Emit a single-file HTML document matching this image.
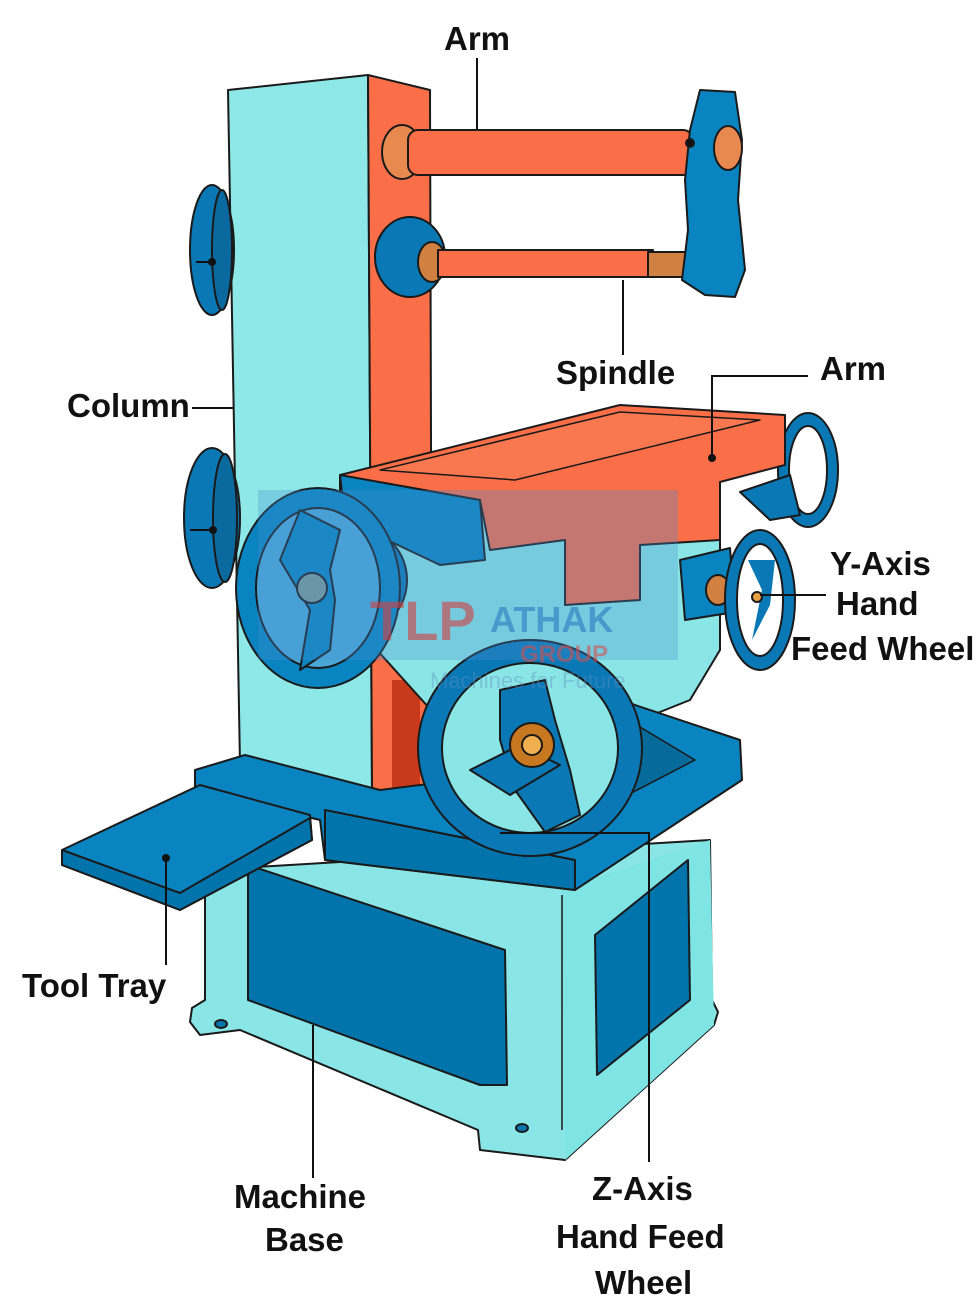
<!DOCTYPE html>
<html><head><meta charset="utf-8"><style>
html,body{margin:0;padding:0;background:#fff}
svg{display:block}
text{font-family:"Liberation Sans",sans-serif;font-weight:bold;font-size:33px;fill:#111}
</style></head><body>
<svg width="980" height="1315" viewBox="0 0 980 1315" xmlns="http://www.w3.org/2000/svg">
<g stroke="#1a1a1a" stroke-width="2" stroke-linejoin="round">
<!-- base body -->
<path d="M205 870 L710 840 L712 1000 L718 1012 L714 1025 L565 1160 L480 1150 L478 1130 L240 1030 L200 1035 L190 1022 L192 1008 L205 1000 Z" fill="#8ae6e6"/>
<path d="M562 890 L710 840 L714 1025 L565 1160 Z" fill="#7ee4e4" stroke="none"/>
<line x1="562" y1="895" x2="562" y2="1130" stroke-width="1.5"/>
<path d="M248 865 L505 950 L507 1085 L480 1085 L248 1000 Z" fill="#0274ac"/>
<path d="M595 935 L688 860 L690 1000 L597 1075 Z" fill="#0274ac"/>
<ellipse cx="221" cy="1024" rx="6" ry="4" fill="#0274ac"/>
<ellipse cx="522" cy="1128" rx="6" ry="4" fill="#0274ac"/>
<!-- column -->
<path d="M228 90 L368 75 L372 790 L240 765 Z" fill="#8ee8e8"/>
<path d="M368 75 L430 90 L432 790 L372 790 Z" fill="#fa6e48"/>
<path d="M392 680 L420 680 L420 790 L392 790 Z" fill="#c83a1c" stroke="none"/>
<!-- pulleys -->
<ellipse cx="212" cy="250" rx="22" ry="65" fill="#0a78b5"/>
<ellipse cx="222" cy="250" rx="10" ry="60" fill="#0a6aa0"/>
<ellipse cx="212" cy="518" rx="28" ry="70" fill="#0a78b5"/>
<ellipse cx="225" cy="518" rx="12" ry="64" fill="#0a6aa0"/>
<!-- arms -->
<ellipse cx="402" cy="152" rx="20" ry="27" fill="#e88a50"/>
<rect x="408" y="130" width="285" height="45" rx="10" fill="#fa6e48"/>
<ellipse cx="410" cy="257" rx="35" ry="40" fill="#0a78b5"/>
<ellipse cx="432" cy="262" rx="14" ry="20" fill="#d08040"/>
<rect x="438" y="250" width="215" height="27" fill="#fa6e48"/>
<rect x="648" y="252" width="40" height="25" fill="#d08040"/>
<path d="M700 90 L735 92 L742 140 L738 200 L745 270 L735 297 L705 295 L682 280 L688 230 L685 180 L690 130 Z" fill="#0a84c0"/>
<ellipse cx="728" cy="148" rx="14" ry="22" fill="#e88a50"/>
<circle cx="690" cy="143" r="4" fill="#111"/>
<!-- saddle body -->
<path d="M340 500 L620 440 L720 520 L720 650 L690 700 L640 720 L440 720 L350 620 Z" fill="#8ae6e6"/>
<!-- right table wheel -->
<ellipse cx="808" cy="470" rx="30" ry="57" fill="#0a78b5"/>
<ellipse cx="808" cy="470" rx="19" ry="44" fill="#fff"/>
<path d="M740 492 L790 475 L800 515 L770 520 Z" fill="#0a78b5"/>
<!-- table -->
<path d="M340 475 L620 405 L785 415 L785 465 L720 482 L720 540 L640 545 L640 600 L565 605 L565 540 L490 550 L480 500 L340 500 Z" fill="#fa6e48"/>
<path d="M380 470 L620 412 L760 420 L515 480 Z" fill="#fa7850" stroke-width="1.5"/>
<path d="M340 475 L480 500 L485 560 L440 565 L345 520 Z" fill="#0a84c0"/>
<!-- y feed block -->
<path d="M680 560 L730 548 L735 612 L685 620 Z" fill="#0a84c0"/>
<ellipse cx="718" cy="590" rx="12" ry="15" fill="#d08040"/>
<ellipse cx="760" cy="600" rx="35" ry="70" fill="#0a78b5"/>
<ellipse cx="760" cy="600" rx="23" ry="56" fill="#fff"/>
<path d="M748 560 L762 590 L752 640 L770 605 L775 560 Z" fill="#0a78b5" stroke="none"/>
<circle cx="757" cy="597" r="5" fill="#e8a040"/>
<!-- base top -->
<path d="M195 770 L245 755 L380 790 L460 780 L620 700 L740 740 L742 780 L575 890 L325 860 L320 820 L195 790 Z" fill="#0a84c0"/>
<path d="M325 810 L575 860 L575 890 L325 860 Z" fill="#0274ac"/>
<path d="M440 780 L620 715 L695 760 L560 830 Z" fill="#066a9a" stroke-width="1.5"/>
<!-- tool tray -->
<path d="M62 850 L200 785 L310 815 L312 840 L180 910 L62 865 Z" fill="#0a84c0"/>
<path d="M62 850 L180 893 L310 818 L312 840 L180 910 L62 865 Z" fill="#0274ac"/>
<!-- left wheel -->
<ellipse cx="362" cy="580" rx="45" ry="50" fill="#0a78b5"/>
<ellipse cx="318" cy="588" rx="82" ry="100" fill="#0a84c0"/>
<ellipse cx="318" cy="588" rx="62" ry="80" fill="#4aa8d8"/>
<path d="M300 510 L340 530 L330 570 L335 600 L330 650 L300 670 L310 610 L280 560 Z" fill="#0a84c0"/>
<circle cx="312" cy="588" r="15" fill="#7a9a9a"/>
<!-- Z wheel -->
<ellipse cx="530" cy="748" rx="112" ry="108" fill="#0a78b5"/>
<ellipse cx="530" cy="748" rx="88" ry="85" fill="#8ae6e6"/>
<path d="M500 690 L545 680 L555 720 L570 770 L580 815 L545 832 L515 790 L500 740 Z" fill="#0a78b5"/>
<path d="M470 770 L520 745 L560 765 L510 795 Z" fill="#0a78b5"/>
<circle cx="532" cy="745" r="22" fill="#c87820"/>
<circle cx="532" cy="745" r="10" fill="#f0b050"/>
</g>
<!-- watermark -->
<rect x="258" y="490" width="420" height="170" fill="#4a90d0" opacity="0.3"/>
<text x="370" y="640" style="font-size:56px;fill:#d04040;opacity:0.6">TLP</text>
<text x="490" y="632" style="font-size:36px;fill:#2a7ac0;opacity:0.6">ATHAK</text>
<text x="520" y="662" style="font-size:24px;fill:#d05050;opacity:0.6">GROUP</text>
<text x="430" y="688" style="font-size:22px;fill:#6090c0;opacity:0.4;font-weight:normal">Machines for Future</text>
<!-- leaders -->
<g stroke="#111" stroke-width="2" fill="none">
<line x1="477" y1="58" x2="477" y2="130"/>
<line x1="623" y1="280" x2="623" y2="355"/>
<polyline points="808,376 712,376 712,458"/>
<line x1="192" y1="408" x2="233" y2="408"/>
<line x1="212" y1="262" x2="196" y2="262"/>
<line x1="213" y1="530" x2="190" y2="530"/>
<line x1="760" y1="595" x2="826" y2="595"/>
<line x1="166" y1="858" x2="166" y2="965"/>
<line x1="313" y1="1025" x2="313" y2="1178"/>
<polyline points="500,833 649,833 649,1162"/>
</g>
<g fill="#111"><circle cx="212" cy="262" r="4"/><circle cx="213" cy="530" r="4"/><circle cx="712" cy="458" r="4"/><circle cx="166" cy="858" r="4"/></g>
<text x="444" y="50">Arm</text>
<text x="556" y="384">Spindle</text>
<text x="820" y="380">Arm</text>
<text x="67" y="417">Column</text>
<text x="830" y="575">Y-Axis</text>
<text x="836" y="615">Hand</text>
<text x="791" y="660">Feed Wheel</text>
<text x="22" y="997">Tool Tray</text>
<text x="234" y="1208">Machine</text>
<text x="265" y="1251">Base</text>
<text x="592" y="1200">Z-Axis</text>
<text x="556" y="1248">Hand Feed</text>
<text x="595" y="1294">Wheel</text>
</svg>
</body></html>
